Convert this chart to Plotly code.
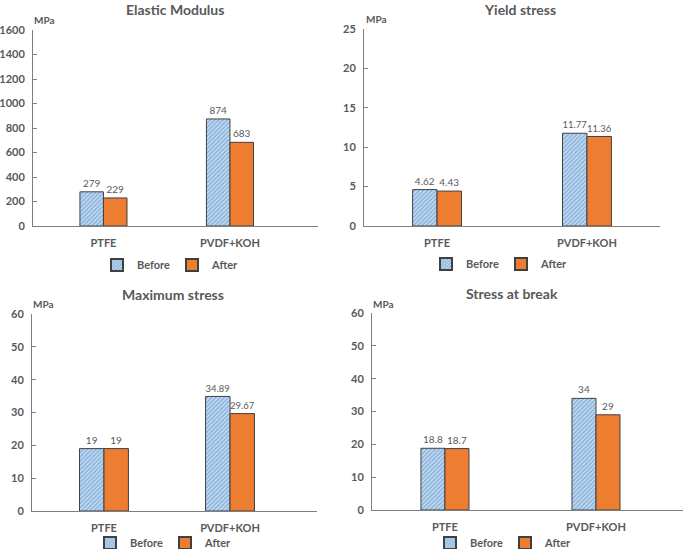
import plotly.graph_objects as go

categories = ["PTFE", "PVDF+KOH"]
series_names = ["Before", "After"]

titles = ["Elastic Modulus", "Yield stress", "Maximum stress", "Stress at break"]
before_vals = [[279, 874], [4.62, 11.77], [19, 34.89], [18.8, 34]]
after_vals = [[229, 683], [4.43, 11.36], [19, 29.67], [18.7, 29]]
before_text = [["279", "874"], ["4.62", "11.77"], ["19", "34.89"], ["18.8", "34"]]
after_text = [["229", "683"], ["4.43", "11.36"], ["19", "29.67"], ["18.7", "29"]]
y_max = [1600, 25, 60, 60]
y_dtick = [200, 5, 10, 10]
unit = "MPa"

W, H = 685, 549
FONT = "Lato, 'Open Sans', sans-serif"
GREY = "#595959"
AXIS = "#7f7f7f"

panels = [
    dict(x0=33, x1=318, yt=30, yb=226, xr=[-0.557, 1.696], w=0.186, tx=175, ty=9, lx=172, ly=265, ux=44, uy=20),
    dict(x0=364, x1=660, yt=29, yb=226, xr=[-0.487, 1.487], w=0.163, tx=520, ty=9, lx=501, ly=264, ux=376, uy=19),
    dict(x0=32, x1=317, yt=314, yb=511, xr=[-0.571, 1.69], w=0.194, tx=173, ty=294, lx=165, ly=543, ux=43, uy=304),
    dict(x0=372, x1=683, yt=313, yb=510, xr=[-0.483, 1.576], w=0.159, tx=512, ty=293, lx=505, ly=543, ux=383, uy=304),
]

fig = go.Figure()
annotations = []
for i, p in enumerate(panels):
    sfx = "" if i == 0 else str(i + 1)
    xa, ya = "x" + sfx, "y" + sfx
    lg = "legend" + sfx
    w = p["w"]
    fig.add_trace(go.Bar(
        x=categories, y=before_vals[i], name=series_names[0], xaxis=xa, yaxis=ya,
        width=w, offset=-w, legend=lg,
        marker=dict(color="#c5dcf1", line=dict(color="#404040", width=1),
                    pattern=dict(shape="/", fgcolor="#3f7fc2", bgcolor="#c5dcf1", size=3, solidity=0.45)),
        text=before_text[i], textposition="outside", cliponaxis=False,
        textfont=dict(family=FONT, size=10, color=GREY),
    ))
    fig.add_trace(go.Bar(
        x=categories, y=after_vals[i], name=series_names[1], xaxis=xa, yaxis=ya,
        width=w, offset=0, legend=lg,
        marker=dict(color="#ed7d31", line=dict(color="#404040", width=1)),
        text=after_text[i], textposition="outside", cliponaxis=False,
        textfont=dict(family=FONT, size=10, color=GREY),
    ))
    xdom = [p["x0"] / W, p["x1"] / W]
    ydom = [1 - p["yb"] / H, 1 - p["yt"] / H]
    fig.update_layout(**{
        "xaxis" + sfx: dict(domain=xdom, range=p["xr"], anchor=ya, type="category",
                            showline=True, linecolor=AXIS, linewidth=1, ticks="",
                            showgrid=False, zeroline=False, fixedrange=True, automargin=False,
                            tickfont=dict(family=FONT, size=11, color=GREY, weight="bold"),
                            ticklabelstandoff=7),
        "yaxis" + sfx: dict(domain=ydom, range=[0, y_max[i]], dtick=y_dtick[i], anchor=xa,
                            showline=True, linecolor=AXIS, linewidth=1, ticks="inside",
                            ticklen=4, tickcolor=AXIS, showgrid=False, zeroline=False, automargin=False,
                            ticklabelstandoff=5, fixedrange=True,
                            tickfont=dict(family=FONT, size=11, color=GREY, weight="bold")),
        lg: dict(orientation="h", x=p["lx"] / W, y=1 - p["ly"] / H, xanchor="center", yanchor="middle",
                 font=dict(family=FONT, size=11, color=GREY, weight="bold"),
                 itemwidth=30, entrywidth=30, itemsizing="constant", bgcolor="rgba(0,0,0,0)",
                 tracegroupgap=0),
    })
    annotations.append(dict(text="<b>" + titles[i] + "</b>", x=p["tx"] / W, y=1 - p["ty"] / H,
                            xref="paper", yref="paper", showarrow=False, xanchor="center", yanchor="middle",
                            font=dict(family=FONT, size=14, color=GREY)))
    annotations.append(dict(text="<b>" + unit + "</b>", x=p["ux"] / W, y=1 - p["uy"] / H,
                            xref="paper", yref="paper", showarrow=False, xanchor="center", yanchor="middle",
                            font=dict(family=FONT, size=10, color=GREY)))

fig.update_layout(width=W, height=H, margin=dict(l=0, r=0, t=0, b=0, autoexpand=False),
                  plot_bgcolor="white", paper_bgcolor="white",
                  barmode="overlay", showlegend=True, annotations=annotations,
                  font=dict(family=FONT, color=GREY))
fig.write_html("out.html", config={"displayModeBar": False},
               post_script="document.body.style.margin='0';")
